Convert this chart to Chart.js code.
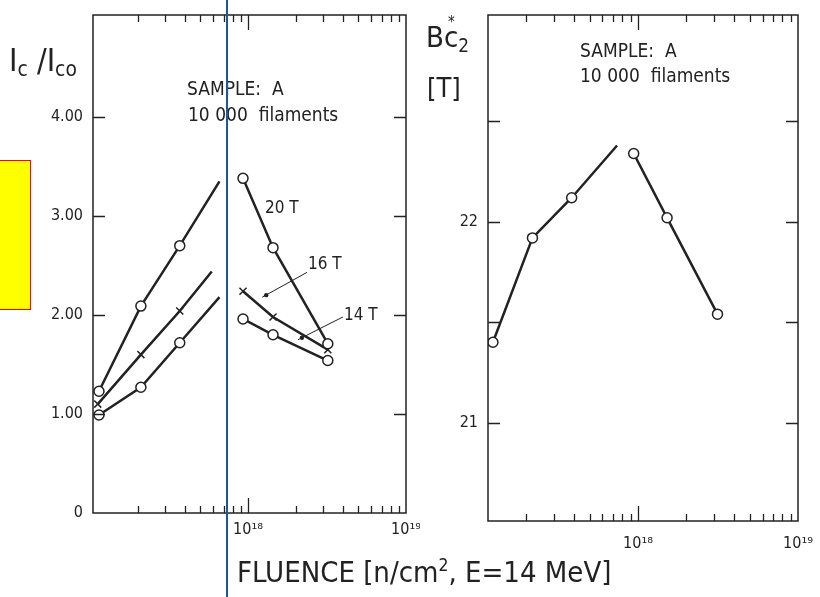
<!DOCTYPE html>
<html>
<head>
<meta charset="utf-8">
<script src="https://cdn.jsdelivr.net/npm/chart.js@4/dist/chart.umd.min.js"></script>
<style>
  body { margin: 0; background: #fff; }
  #wrap { position: relative; width: 820px; height: 597px; overflow: hidden; background: #fff;
    font-family: "DejaVu Sans Condensed", "Liberation Sans Narrow", "DejaVu Sans", sans-serif; color: #222; }
  .pane { position: absolute; top: 0; height: 560px; }
  .txt { position: absolute; white-space: nowrap; line-height: 1; }
  sub { font-size: 65%; vertical-align: -0.25em; }
</style>
</head>
<body>
<div id="wrap">
  <div class="pane" style="left:0;width:420px"><canvas id="icChart"></canvas></div>
  <div class="pane" style="left:420px;width:400px"><canvas id="bcChart"></canvas></div>

  <div class="txt" style="left:9px;top:44px;font-size:32px">I<sub>c</sub> /I<sub>co</sub></div>
  <div class="txt" style="left:426px;top:23px;font-size:29px">B<span style="position:relative">c<span style="position:absolute;left:4px;top:-5px;font-size:15px">*</span></span><sub>2</sub></div>
  <div class="txt" style="left:427px;top:74px;font-size:27px">[T]</div>

  <div class="txt" style="left:187px;top:79px;font-size:19px">SAMPLE:&nbsp; A</div>
  <div class="txt" style="left:188px;top:105px;font-size:19px">10 000&nbsp; filaments</div>
  <div class="txt" style="left:580px;top:41px;font-size:19px">SAMPLE:&nbsp; A</div>
  <div class="txt" style="left:580px;top:66px;font-size:19px">10 000&nbsp; filaments</div>

  <div class="txt" style="left:265px;top:199px;font-size:17px">20 T</div>
  <div class="txt" style="left:308px;top:255px;font-size:17px">16 T</div>
  <div class="txt" style="left:344px;top:306px;font-size:17px">14 T</div>

  <div class="txt" style="left:237px;top:557px;font-size:29px">FLUENCE [n/cm<sup style="font-size:60%">2</sup>, E=14 MeV]</div>

  <div style="position:absolute;left:0;top:160px;width:30px;height:148px;background:#ffff00;border:1px solid #ff0000;border-left:none"></div>
  <div style="position:absolute;left:226px;top:0;width:2px;height:597px;background:#1f56a0"></div>
</div>

<script>
// fluence values [n/cm^2]
const fluenceLowIc = [1.14e17, 2.1e17, 3.7e17, 6.6e17];
const fluenceLow16 = [1.12e17, 2.1e17, 3.7e17, 5.9e17];
const fluenceHighIc = [9.3e17, 1.44e18, 3.2e18];

// Ic / Ico at 20, 16, 14 T
const ic20Low = [1.23, 2.09, 2.70, 3.35];
const ic16Low = [1.10, 1.60, 2.04, 2.44];
const ic14Low = [0.99, 1.27, 1.72, 2.18];
const ic20High = [3.38, 2.68, 1.71];
const ic16High = [2.24, 1.98, 1.65];
const ic14High = [1.96, 1.80, 1.54];

// Bc2* [T]
const fluenceLowBc = [1.24e17, 2.19e17, 3.85e17, 7.4e17];
const fluenceHighBc = [9.4e17, 1.52e18, 3.14e18];
const bc2Low = [21.40, 21.92, 22.12, 22.38];
const bc2High = [22.34, 22.02, 21.54];

// ticks
const xTickValues = [2e17, 3e17, 4e17, 5e17, 6e17, 7e17, 8e17, 9e17, 1e18,
  2e18, 3e18, 4e18, 5e18, 6e18, 7e18, 8e18, 9e18, 1e19];
const xTickLabels = { 1e18: '10¹⁸', 1e19: '10¹⁹' };
const icTicks = [0, 1, 2, 3, 4];
const bcTicks = [21, 21.5, 22, 22.5];

const ink = '#222';
const font = '"DejaVu Sans Condensed", "Liberation Sans Narrow", "DejaVu Sans", sans-serif';

function pts(xs, ys) {
  return xs.map((x, i) => ({ x, y: ys[i] }));
}

function series(xs, ys, style, openEnd) {
  const n = xs.length;
  return {
    data: pts(xs, ys),
    showLine: true,
    borderColor: ink,
    borderWidth: 2.5,
    pointStyle: style,
    pointRadius: xs.map((_, i) => (openEnd && i === n - 1 ? 0 : 5)),
    pointBorderWidth: 1.5,
    pointBorderColor: ink,
    pointBackgroundColor: '#fff'
  };
}

// frame, inward ticks and leader lines
const framePlugin = {
  id: 'frame',
  afterDatasetsDraw(chart, args, opts) {
    const { ctx, chartArea: a, scales: { x, y } } = chart;
    ctx.save();
    ctx.strokeStyle = ink;
    ctx.lineWidth = 1.5;
    ctx.strokeRect(a.left, a.top, a.right - a.left, a.bottom - a.top);

    ctx.lineWidth = 1.3;
    ctx.beginPath();
    x.ticks.forEach(t => {
      const px = Math.round(x.getPixelForValue(t.value)) + 0.5;
      if (px >= a.right - 1) return;
      const len = t.value === 1e18 ? 15 : 7;
      ctx.moveTo(px, a.bottom); ctx.lineTo(px, a.bottom - len);
      ctx.moveTo(px, a.top); ctx.lineTo(px, a.top + len);
    });
    y.ticks.forEach(t => {
      const py = Math.round(y.getPixelForValue(t.value)) + 0.5;
      if (py >= a.bottom - 1 || py <= a.top + 1) return;
      ctx.moveTo(a.left, py); ctx.lineTo(a.left + 12, py);
      ctx.moveTo(a.right, py); ctx.lineTo(a.right - 12, py);
    });
    ctx.stroke();

    (opts.leaders || []).forEach(l => {
      const x0 = x.getPixelForValue(l.from[0]), y0 = y.getPixelForValue(l.from[1]);
      const x1 = x.getPixelForValue(l.to[0]), y1 = y.getPixelForValue(l.to[1]);
      ctx.lineWidth = 1;
      ctx.beginPath();
      ctx.moveTo(x0, y0); ctx.lineTo(x1, y1);
      ctx.stroke();
      ctx.fillStyle = ink;
      ctx.beginPath();
      ctx.arc(x0 + 4, y0 - 2, 2.2, 0, Math.PI * 2);
      ctx.fill();
    });
    ctx.restore();
  }
};

function makeChart(id, datasets, cfg) {
  return new Chart(document.getElementById(id), {
    type: 'scatter',
    data: { datasets },
    plugins: [framePlugin],
    options: {
      responsive: true,
      maintainAspectRatio: false,
      animation: false,
      layout: { padding: { top: 15, right: cfg.padRight, left: 0, bottom: 0 } },
      plugins: {
        legend: { display: false },
        tooltip: { enabled: false },
        frame: { leaders: cfg.leaders }
      },
      scales: {
        x: {
          type: 'logarithmic',
          min: cfg.xMin,
          max: 1e19,
          afterBuildTicks: s => { s.ticks = xTickValues.map(v => ({ value: v })); },
          afterFit: s => { s.height = cfg.xHeight; s.paddingLeft = 0; s.paddingRight = 0; },
          grid: { display: false, drawTicks: false },
          border: { display: false },
          ticks: {
            autoSkip: false,
            maxRotation: 0,
            padding: cfg.xPad,
            color: ink,
            font: { family: font, size: 16 },
            callback: v => xTickLabels[v] || ''
          }
        },
        y: {
          min: cfg.yMin,
          max: cfg.yMax,
          afterBuildTicks: s => { s.ticks = cfg.yTicks.map(v => ({ value: v })); },
          afterFit: s => { s.width = cfg.yWidth; s.paddingTop = 0; s.paddingBottom = 0; },
          grid: { display: false, drawTicks: false },
          border: { display: false },
          ticks: {
            autoSkip: false,
            padding: 10,
            color: ink,
            font: { family: font, size: 16 },
            callback: cfg.yLabel
          }
        }
      }
    }
  });
}

makeChart('icChart', [
  series(fluenceLowIc, ic20Low, 'circle', true),
  series(fluenceLow16, ic16Low, 'crossRot', true),
  series(fluenceLowIc, ic14Low, 'circle', true),
  series(fluenceHighIc, ic20High, 'circle', false),
  series(fluenceHighIc, ic16High, 'crossRot', false),
  series(fluenceHighIc, ic14High, 'circle', false)
], {
  xMin: 1.045e17, yMin: 0, yMax: 5.03, yTicks: icTicks,
  padRight: 14, xHeight: 47, yWidth: 93, xPad: 7,
  yLabel: v => (v === 0 ? '0' : v.toFixed(2)),
  leaders: [
    { from: [1.23e18, 2.18], to: [2.36e18, 2.43] },
    { from: [2.07e18, 1.75], to: [3.99e18, 1.98] }
  ]
});

makeChart('bcChart', [
  series(fluenceLowBc, bc2Low, 'circle', true),
  series(fluenceHighBc, bc2High, 'circle', false)
], {
  xMin: 1.155e17, yMin: 20.51, yMax: 23.03, yTicks: bcTicks,
  padRight: 22, xHeight: 39, yWidth: 68, xPad: 13,
  yLabel: v => (Number.isInteger(v) ? String(v) : ''),
  leaders: []
});
</script>
</body>
</html>
